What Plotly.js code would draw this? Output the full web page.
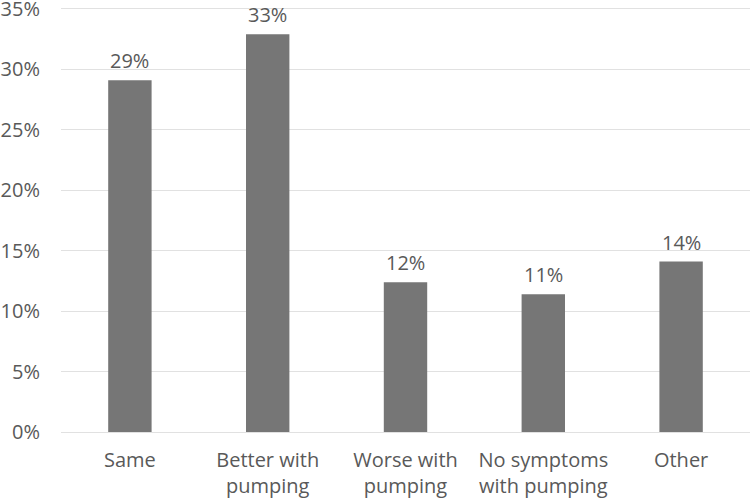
<!DOCTYPE html>
<html>
<head>
<meta charset="utf-8">
<script src="https://cdn.plot.ly/plotly-3.0.1.min.js"></script>
<style>html,body{margin:0;padding:0;background:#fff;}#chart{width:752px;height:498px;}</style>
</head>
<body>
<div id="chart"></div>
<script>
const categories = ["Same", "Better with<br>pumping", "Worse with<br>pumping", "No symptoms<br>with pumping", "Other"];
const values = [29.1, 32.9, 12.4, 11.4, 14.1];
const valueLabels = ["29%", "33%", "12%", "11%", "14%"];
const yTickVals = [0, 5, 10, 15, 20, 25, 30, 35];
const yTickText = ["0%", "5%", "10%", "15%", "20%", "25%", "30%", "35%"];

const fontFam = "'Open Sans', 'Liberation Sans', sans-serif";
const textColor = "#595959";
const trace = {
  type: "bar",
  x: categories,
  y: values,
  marker: {color: "#767676"},
  hoverinfo: "none"
};
const annotations = categories.map((c, i) => ({
  x: c, y: values[i], xref: "x", yref: "y",
  text: valueLabels[i], showarrow: false,
  yanchor: "bottom", yshift: 4,
  font: {family: fontFam, size: 20, color: textColor}
}));
const layout = {
  width: 752, height: 498,
  margin: {l: 61, r: 2, t: 5, b: 66},
  paper_bgcolor: "#fff", plot_bgcolor: "#fff",
  bargap: 0.685,
  showlegend: false,
  font: {family: fontFam, size: 20, color: textColor},
  annotations: annotations,
  xaxis: {
    showgrid: false, zeroline: false,
    showline: false, ticks: "",
    tickfont: {family: fontFam, size: 20, color: textColor},
    ticklabelstandoff: 14,
    ticklabeloverflow: "allow"
  },
  yaxis: {
    range: [0, 35.33],
    tickvals: yTickVals, ticktext: yTickText,
    showgrid: true, gridcolor: "#e1e1e1", gridwidth: 1,
    zeroline: true, zerolinecolor: "#e1e1e1", zerolinewidth: 1,
    showline: false, ticks: "",
    tickfont: {family: fontFam, size: 20, color: textColor},
    ticklabelstandoff: 20,
    ticklabeloverflow: "allow"
  }
};
Plotly.newPlot("chart", [trace], layout, {displayModeBar: false, staticPlot: true});
</script>
</body>
</html>
